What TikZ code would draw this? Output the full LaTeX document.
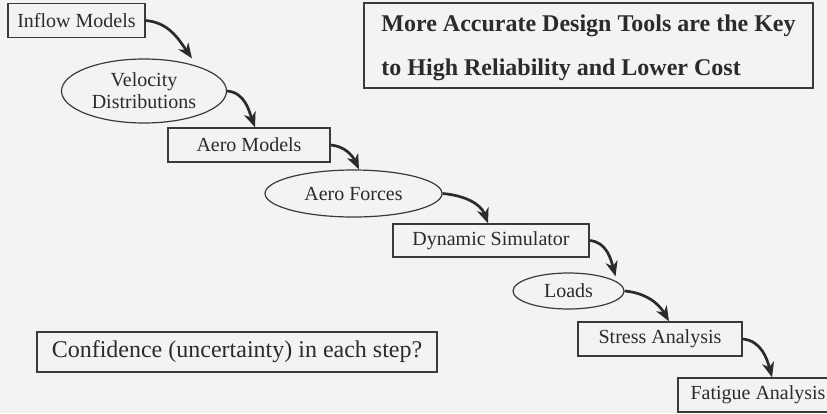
\documentclass[tikz,border=0pt]{standalone}
\usepackage{fontspec}
\setmainfont{Liberation Serif}
\usetikzlibrary{arrows.meta, shapes.geometric}
\definecolor{paper}{HTML}{F3F3F2}
\definecolor{ink}{HTML}{2B2B2B}
\definecolor{frame}{HTML}{3A3A3A}

\begin{document}
\begin{tikzpicture}[
  x=1pt, y=1pt,
  every node/.style={text=ink},
  stepbox/.style={draw=frame, line width=1.3pt, inner sep=0pt,
    minimum height=34pt, font=\fontsize{20}{22}\selectfont},
  stepoval/.style={ellipse, draw=frame, line width=1.2pt, inner sep=0pt,
    align=center, font=\fontsize{20}{22}\selectfont},
  flow/.style={-{Stealth[length=15pt, width=12pt, inset=4.5pt]}, draw=ink,
    line width=2.7pt, out=-5, in=115},
]

% Background
\clip (0,0) rectangle (827,-413);
\fill[paper] (0,0) rectangle (827,-413);

% Steps, top left down to bottom right
\node[stepbox, minimum width=137pt] (inflow) at (76.5,-20.5) {Inflow Models};
\node[stepoval, minimum width=165pt, minimum height=64pt] (velo) at (144,-91)
  {Velocity\\Distributions};
\node[stepbox, minimum width=162pt] (aeromod) at (249,-145) {Aero Models};
\node[stepoval, minimum width=177pt, minimum height=47pt] (aeroforce) at (353.5,-193.5)
  {Aero Forces};
\node[stepbox, minimum width=196pt, minimum height=33pt] (dynsim) at (491,-240.5)
  {Dynamic Simulator};
\node[stepoval, minimum width=111pt, minimum height=36pt] (loads) at (568.5,-291)
  {Loads};
\node[stepbox, minimum width=164pt] (stress) at (660,-339) {Stress Analysis};
\node[stepbox, minimum width=160pt] (fatigue) at (758,-395) {Fatigue Analysis};

% Arrows between steps
\draw[flow, in=125] (inflow.east) to ([xshift=48pt]velo.north);
\draw[flow, in=110] (velo.east) to ([xshift=6pt]aeromod.north);
\draw[flow] (aeromod.east) to ([xshift=5.5pt]aeroforce.north);
\draw[flow, in=110] (aeroforce.east) to ([xshift=-3pt]dynsim.north);
\draw[flow, in=105] (dynsim.east) to ([xshift=47pt,yshift=-4pt]loads.north);
\draw[flow, in=120] (loads.east) to ([xshift=9pt]stress.north);
\draw[flow, in=105] (stress.east) to ([xshift=14pt]fatigue.north);

% Headline
\node[draw=frame, line width=1.3pt, minimum width=449pt, minimum height=85pt,
  text depth=0pt, align=left, font=\fontsize{24}{44}\selectfont\bfseries]
  (headline) at (588.5,-45.5)
  {More Accurate Design Tools are the Key\\to High Reliability and Lower Cost};

% Question
\node[draw=frame, line width=1.3pt, minimum width=400pt, minimum height=40pt,
  font=\fontsize{24}{28}\selectfont] (question) at (237,-352)
  {Confidence (uncertainty) in each step?};

\end{tikzpicture}
\end{document}
